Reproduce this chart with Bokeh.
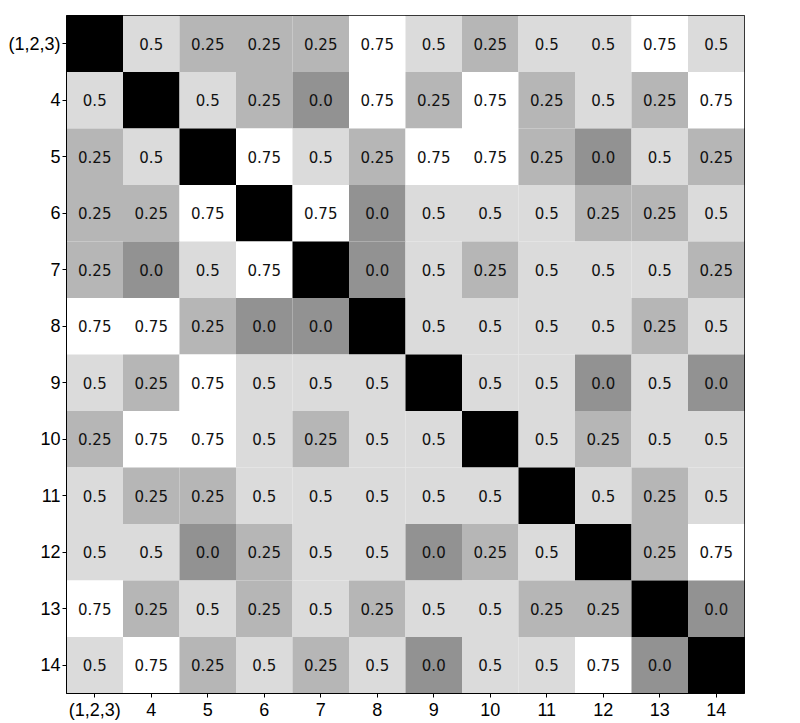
from bokeh.plotting import figure
from bokeh.models import ColumnDataSource, LinearColorMapper, FactorRange
from bokeh.transform import transform
from bokeh.core.properties import value
from bokeh.embed import file_html
from bokeh.resources import INLINE

labels = ["(1,2,3)", "4", "5", "6", "7", "8", "9", "10", "11", "12", "13", "14"]

# None = diagonal (drawn black)
row_123 = [None, 0.5, 0.25, 0.25, 0.25, 0.75, 0.5, 0.25, 0.5, 0.5, 0.75, 0.5]
row_4 = [0.5, None, 0.5, 0.25, 0.0, 0.75, 0.25, 0.75, 0.25, 0.5, 0.25, 0.75]
row_5 = [0.25, 0.5, None, 0.75, 0.5, 0.25, 0.75, 0.75, 0.25, 0.0, 0.5, 0.25]
row_6 = [0.25, 0.25, 0.75, None, 0.75, 0.0, 0.5, 0.5, 0.5, 0.25, 0.25, 0.5]
row_7 = [0.25, 0.0, 0.5, 0.75, None, 0.0, 0.5, 0.25, 0.5, 0.5, 0.5, 0.25]
row_8 = [0.75, 0.75, 0.25, 0.0, 0.0, None, 0.5, 0.5, 0.5, 0.5, 0.25, 0.5]
row_9 = [0.5, 0.25, 0.75, 0.5, 0.5, 0.5, None, 0.5, 0.5, 0.0, 0.5, 0.0]
row_10 = [0.25, 0.75, 0.75, 0.5, 0.25, 0.5, 0.5, None, 0.5, 0.25, 0.5, 0.5]
row_11 = [0.5, 0.25, 0.25, 0.5, 0.5, 0.5, 0.5, 0.5, None, 0.5, 0.25, 0.5]
row_12 = [0.5, 0.5, 0.0, 0.25, 0.5, 0.5, 0.0, 0.25, 0.5, None, 0.25, 0.75]
row_13 = [0.75, 0.25, 0.5, 0.25, 0.5, 0.25, 0.5, 0.5, 0.25, 0.25, None, 0.0]
row_14 = [0.5, 0.75, 0.25, 0.5, 0.25, 0.5, 0.0, 0.5, 0.5, 0.75, 0.0, None]

rows = [row_123, row_4, row_5, row_6, row_7, row_8, row_9, row_10,
        row_11, row_12, row_13, row_14]

DIAG = -1.0

xs, ys, vals, texts = [], [], [], []
for ri, row in enumerate(rows):
    for ci, v in enumerate(row):
        xs.append(labels[ci])
        ys.append(labels[ri])
        if v is None:
            vals.append(DIAG)
            texts.append("")
        else:
            vals.append(v)
            texts.append(str(v))

src = ColumnDataSource(dict(x=xs, y=ys, v=vals, t=texts))

palette = ["#%02x%02x%02x" % (i, i, i) for i in range(256)]
mapper = LinearColorMapper(palette=palette, low=-1.0, high=0.75)

p = figure(
    x_range=FactorRange(*labels),
    y_range=FactorRange(*labels[::-1]),
    frame_width=678, frame_height=678,
    min_border_left=66, min_border_right=10,
    min_border_top=15, min_border_bottom=28,
    output_backend="svg", toolbar_location=None,
)

p.rect(x="x", y="y", width=1, height=1, source=src,
       fill_color=transform("v", mapper), line_color=None)

p.text(x="x", y="y", text="t", source=src,
       text_align="center", text_baseline="middle",
       text_font=value("DejaVu Sans"), text_font_size="15px",
       text_color="#111111")

p.xgrid.visible = False
p.ygrid.visible = False
p.outline_line_color = "black"
p.outline_line_width = 1
p.x_range.range_padding = 0
p.y_range.range_padding = 0

for ax in (p.xaxis, p.yaxis):
    ax.axis_line_color = "black"
    ax.major_tick_line_color = "black"
    ax.major_tick_out = 4
    ax.major_tick_in = 0
    ax.minor_tick_line_color = None
    ax.major_label_text_font = "Liberation Sans"
    ax.major_label_text_font_size = "18px"
    ax.major_label_text_color = "black"
    ax.major_label_standoff = 2
    ax.major_label_orientation = "horizontal"

p.x_range.factor_padding = 0
p.y_range.factor_padding = 0

open("out.html", "w").write(file_html(p, INLINE))
